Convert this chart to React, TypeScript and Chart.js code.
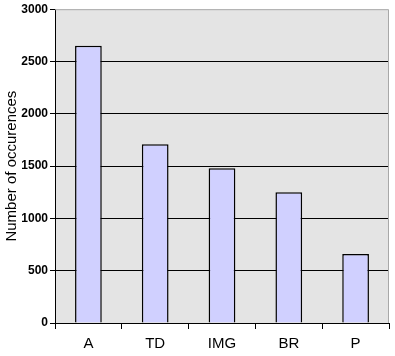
import React, { useEffect, useRef } from "react";
import { Chart, registerables } from "chart.js";

Chart.register(...registerables);

const categories = ["A", "TD", "IMG", "BR", "P"];
const occurrences = [2650, 1710, 1480, 1250, 660];
const yTicks = [0, 500, 1000, 1500, 2000, 2500, 3000];
const yTitle = "Number of occurences";

const plotBg = {
  id: "plotBg",
  beforeDraw(chart: any) {
    const { ctx, chartArea } = chart;
    ctx.save();
    ctx.fillStyle = "#e4e4e4";
    ctx.fillRect(chartArea.left, chartArea.top, chartArea.right - chartArea.left, chartArea.bottom - chartArea.top);
    ctx.restore();
  },
  afterDraw(chart: any) {
    const { ctx, chartArea } = chart;
    ctx.save();
    ctx.strokeStyle = "#a8a8a8";
    ctx.lineWidth = 1;
    ctx.beginPath();
    ctx.moveTo(chartArea.left, chartArea.top + 0.5);
    ctx.lineTo(chartArea.right - 0.5, chartArea.top + 0.5);
    ctx.lineTo(chartArea.right - 0.5, chartArea.bottom);
    ctx.stroke();
    ctx.restore();
  },
};

export default function App() {
  const ref = useRef<HTMLCanvasElement>(null);
  useEffect(() => {
    if (!ref.current) return;
    const chart = new Chart(ref.current, {
      type: "bar",
      data: {
        labels: categories,
        datasets: [
          {
            data: occurrences,
            backgroundColor: "#d0d0ff",
            borderColor: "#000000",
            borderWidth: 1.5,
            barPercentage: 0.4,
            categoryPercentage: 1,
          },
        ],
      },
      options: {
        animation: false,
        responsive: false,
        maintainAspectRatio: false,
        layout: { padding: { left: 0, right: 6, top: 9, bottom: 0 } },
        plugins: { legend: { display: false }, tooltip: { enabled: false } },
        scales: {
          x: {
            grid: {
              offset: true,
              drawOnChartArea: false,
              drawTicks: true,
              tickLength: 6,
              color: "#000",
            },
            border: { color: "#000", width: 1 },
            ticks: {
              color: "#000",
              padding: 6,
              font: { family: "Arial, 'Liberation Sans', sans-serif", size: 15 },
            },
            afterFit(scale: any) {
              scale.height = 33;
            },
          },
          y: {
            min: 0,
            max: 3000,
            afterBuildTicks(scale: any) {
              scale.ticks = yTicks.map((v) => ({ value: v }));
            },
            grid: {
              color: (c: any) => (c.tick && c.tick.value === 3000 ? "rgba(0,0,0,0)" : "#000"),
              tickColor: "#000",
              tickLength: 5,
              lineWidth: 1,
            },
            border: { color: "#000", width: 1 },
            ticks: {
              color: "#000",
              padding: 2,
              callback: (v: any) => String(v),
              font: { family: "'Liberation Sans Narrow', 'Arial Narrow', Arial, sans-serif", size: 12, weight: "bold" },
            },
            title: {
              display: true,
              text: yTitle,
              color: "#000",
              padding: { top: 3, bottom: 0 },
              font: { family: "Arial, 'Liberation Sans', sans-serif", size: 15 },
            },
            afterFit(scale: any) {
              scale.width = 55;
            },
          },
        },
      },
      plugins: [plotBg],
    });
    return () => chart.destroy();
  }, []);
  return (
    <div style={{ position: "absolute", left: 0, top: 0, width: 395, height: 356, background: "#fff" }}>
      <canvas ref={ref} width={395} height={356} style={{ display: "block" }} />
    </div>
  );
}
